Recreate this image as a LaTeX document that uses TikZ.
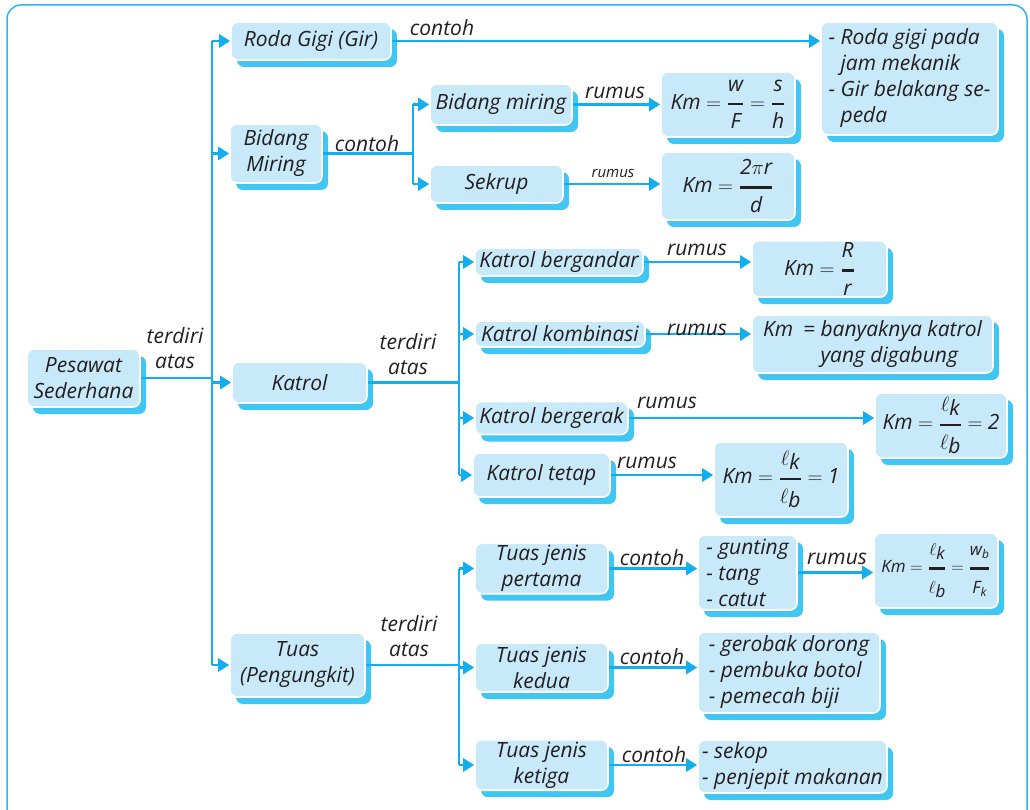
\documentclass[tikz,border=0pt]{standalone}
\usepackage{amsmath}
\usepackage{fontspec}
\setmainfont{Open Sans}
\usetikzlibrary{arrows.meta,shadows}

\definecolor{boxfill}{HTML}{C8E9F9}
\definecolor{boxshade}{HTML}{40C6F3}
\definecolor{linecol}{HTML}{12AEEF}
\definecolor{framecol}{HTML}{2DB6EE}
\definecolor{inkcol}{HTML}{231F20}

\newcommand{\kmfrac}[2]{\genfrac{}{}{2.2pt}{0}{#1\rule[-5pt]{0pt}{5pt}}{\rule{0pt}{17pt}#2}}
\newcommand{\ellsub}[1]{{\scriptsize\ensuremath{\ell}}\raisebox{-4pt}{\textit{#1}}}

\tikzset{
  box/.style={draw=white, line width=1.6pt, fill=boxfill, rounded corners=7pt,
    inner sep=2pt, text=inkcol, align=center,
    font=\fontsize{21}{26}\selectfont\itshape,
    drop shadow={shadow xshift=6pt, shadow yshift=-7pt, fill=boxshade, opacity=1}},
  line/.style={draw=linecol, line width=2.8pt},
  arr/.style={line, -{Triangle[length=11pt,width=13pt]}},
  lbl/.style={inner sep=1pt, text=inkcol, align=center,
    font=\fontsize{21}{25}\selectfont\itshape},
}

\begin{document}
\begin{tikzpicture}[x=1pt, y=-1pt]
  \useasboundingbox (0,0) rectangle (1030,810);
  \begin{scope}
    \clip (0,0) rectangle (1030,810);
    \draw[framecol, line width=1.5pt, rounded corners=14pt] (7,5) rectangle (1027,830);
  \end{scope}

  % akar dan cabang utama
  \node[box, minimum width=113pt, minimum height=58pt] (pes) at (83.5,378) {Pesawat\\Sederhana};
  \node[box, minimum width=160pt, minimum height=38pt] (roda) at (311,41) {Roda Gigi (Gir)};
  \node[box, minimum width=92pt, minimum height=59pt] (bidang) at (276,153.5) {Bidang\\Miring};
  \node[box, minimum width=135pt, minimum height=41pt] (katrol) at (299.5,382.5) {Katrol};
  \node[box, minimum width=135pt, minimum height=64pt] (tuas) at (297.5,665) {Tuas\\(Pengungkit)};

  \coordinate (trunk) at (212,0);
  \draw[line] (pes.east) -- (pes.east -| trunk);
  \draw[line] (trunk |- roda) -- (trunk |- tuas);
  \foreach \n in {roda,bidang,katrol,tuas}
    \draw[arr] (trunk |- \n) -- (\n.west);
  \node[lbl] (lpes) at (175,348) {terdiri\\atas};

  % roda gigi
  \node[box, minimum width=177pt, minimum height=113pt, align=left] (rodaex) at (909.5,78.5)
    {- Roda gigi pada\\\phantom{- }jam mekanik\\- Gir belakang se-\\\phantom{- }peda};
  \draw[arr] (roda.east) -- (roda.east -| rodaex.west);
  \node[lbl] (lroda) at (442,28) {contoh};

  % bidang miring
  \node[box, minimum width=142pt, minimum height=41pt] (bm) at (501,104.5) {Bidang miring};
  \node[box, minimum width=133pt, minimum height=38pt] (sek) at (496.5,184) {Sekrup};
  \node[box, minimum width=134pt, minimum height=65pt] (fbm) at (728,104.5)
    {\textit{Km} $=\kmfrac{\textit{w}}{\textit{F}}=\kmfrac{\textit{s}}{\textit{h}}$};
  \node[box, minimum width=134pt, minimum height=68pt] (fsek) at (728,186)
    {\textit{Km} $=\kmfrac{\textit{2}\pi\textit{r}}{\textit{d}}$};
  \coordinate (bsplit) at (413,0);
  \draw[line] (bidang.east) -- (bidang.east -| bsplit);
  \draw[line] (bsplit |- bm) -- (bsplit |- sek);
  \foreach \n in {bm,sek}
    \draw[arr] (bsplit |- \n) -- (\n.west);
  \draw[arr] (bm.east) -- (bm.east -| fbm.west);
  \draw[arr] (sek.east) -- (sek.east -| fsek.west);
  \node[lbl] (lbidang) at (367,144) {contoh};
  \node[lbl] (lbm) at (615,93) {rumus};
  \node[lbl, font=\fontsize{15}{16}\selectfont\itshape] (lsek) at (613,173) {rumus};

  % katrol
  \node[box, minimum width=168pt, minimum height=28pt] (kbg) at (559,262) {Katrol bergandar};
  \node[box, minimum width=170pt, minimum height=26pt] (kkom) at (560,334) {Katrol kombinasi};
  \node[box, minimum width=153pt, minimum height=33pt] (kbr) at (551.5,418) {Katrol bergerak};
  \node[box, minimum width=137pt, minimum height=44pt] (ktt) at (541.5,475) {Katrol tetap};
  \node[box, minimum width=135pt, minimum height=52pt] (fkbg) at (819.5,269)
    {\textit{Km} $=\kmfrac{\textit{R}}{\textit{r}}$};
  \node[box, minimum width=241pt, minimum height=58pt] (fkkom) at (872.5,344)
    {\begin{tabular}{@{}l@{\hspace{10pt}}l@{}}\textit{Km} & = banyaknya katrol\\ & \phantom{= }yang digabung\end{tabular}};
  \node[box, minimum width=132pt, minimum height=65pt] (fkbr) at (941,425.5)
    {\textit{Km} $=\kmfrac{\ellsub{k}}{\ellsub{b}}=$ 2};
  \node[box, minimum width=134pt, minimum height=75pt] (fktt) at (781,479.5)
    {\textit{Km} $=\kmfrac{\ellsub{k}}{\ellsub{b}}=$ 1};
  \coordinate (ksplit) at (459,0);
  \draw[line] (katrol.east) -- (katrol.east -| ksplit);
  \draw[line] (ksplit |- kbg) -- (ksplit |- ktt);
  \foreach \n in {kbg,kkom,kbr,ktt}
    \draw[arr] (ksplit |- \n) -- (\n.west);
  \draw[arr] (kbg.east) -- (kbg.east -| fkbg.west);
  \draw[arr] (kkom.east) -- (kkom.east -| fkkom.west);
  \draw[arr] (kbr.east) -- (kbr.east -| fkbr.west);
  \draw[arr] (ktt.east) -- (ktt.east -| fktt.west);
  \node[lbl] (lkatrol) at (408,354) {terdiri\\atas};
  \node[lbl] (lkbg) at (697,250) {rumus};
  \node[lbl] (lkkom) at (697,330) {rumus};
  \node[lbl] (lkbr) at (667,403) {rumus};
  \node[lbl] (lktt) at (647,463) {rumus};

  % tuas
  \node[box, minimum width=133pt, minimum height=47pt] (tj1) at (541.5,568.5) {Tuas jenis\\pertama};
  \node[box, minimum width=133pt, minimum height=49pt] (tj2) at (541.5,667.5) {Tuas jenis\\kedua};
  \node[box, minimum width=133pt, minimum height=46pt] (tj3) at (541.5,765) {Tuas jenis\\ketiga};
  \node[box, minimum width=99pt, minimum height=75pt, align=left] (ex1) at (747.5,572.5)
    {- gunting\\- tang\\- catut};
  \node[box, minimum width=124pt, minimum height=75pt, font=\fontsize{17}{22}\selectfont\itshape] (fex1) at (936,570.5)
    {\textit{Km} $=\kmfrac{\ellsub{k}}{\ellsub{b}}=\kmfrac{\textit{w}_{\textit{b}}}{\textit{F}_{\textit{k}}}$};
  \node[box, minimum width=182pt, minimum height=81pt, align=left] (ex2) at (789,672.5)
    {- gerobak dorong\\- pembuka botol\\- pemecah biji};
  \node[box, minimum width=189pt, minimum height=53pt, align=left] (ex3) at (792.5,766.5)
    {- sekop\\- penjepit makanan};
  \coordinate (tsplit) at (459,0);
  \draw[line] (tuas.east) -- (tuas.east -| tsplit);
  \draw[line] (tsplit |- tj1) -- (tsplit |- tj3);
  \foreach \n in {tj1,tj2,tj3}
    \draw[arr] (tsplit |- \n) -- (\n.west);
  \draw[arr] (tj1.east) -- (tj1.east -| ex1.west);
  \draw[arr] (tj2.east) -- (tj2.east -| ex2.west);
  \draw[arr] (tj3.east) -- (tj3.east -| ex3.west);
  \draw[arr] (ex1.east) -- (ex1.east -| fex1.west);
  \node[lbl] (ltuas) at (409,636) {terdiri\\atas};
  \node[lbl] (ltj1) at (652,558) {contoh};
  \node[lbl] (ltj2) at (652,657) {contoh};
  \node[lbl] (ltj3) at (654,755) {contoh};
  \node[lbl] (lex1) at (837,559) {rumus};
\end{tikzpicture}
\end{document}
